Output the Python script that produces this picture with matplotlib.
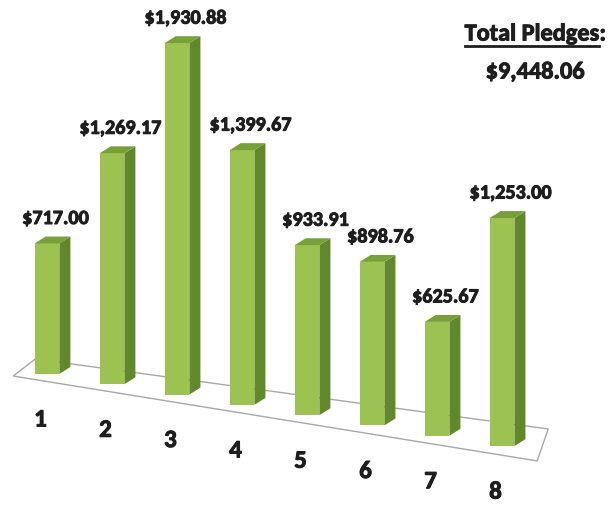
import matplotlib
matplotlib.use("Agg")
import matplotlib.pyplot as plt
import matplotlib.patheffects as pe
from matplotlib.patches import Polygon
from matplotlib.lines import Line2D

# data
categories = ["1", "2", "3", "4", "5", "6", "7", "8"]
pledges = [717.00, 1269.17, 1930.88, 1399.67, 933.91, 898.76, 625.67, 1253.00]
total_label = "$9,448.06"

# faux 3d look
TILT = 56.6        # baseline drop per category (in $ units)
BAR_W = 0.38
DEPTH_X = 0.17
DEPTH_Y = 38.0
FRONT = "#9cc252"
SIDE = "#62882c"
TOP = "#78a038"
FONT = ["Carlito", "DejaVu Sans"]
INK = "#1e1e1e"
HEAVY = [pe.withStroke(linewidth=0.7, foreground=INK)]


def base(x):
    return -TILT * (x - 1)


fig = plt.figure(figsize=(6.08, 5.06), dpi=100)
ax = fig.add_axes([0, 0, 1, 1])
ax.set_xlim(0.277, 9.63)
ax.set_ylim(-720, 2060)
ax.axis("off")

# floor
fl = [(0.48, base(0.48) - 41), (8.54, base(8.54) - 51),
      (8.71, base(8.71) + 134), (0.82, base(0.82) + 72)]
ax.add_patch(Polygon(fl, closed=True, facecolor="white", edgecolor="#a8a8a8",
                     linewidth=1.0, zorder=1))

xs = list(range(1, len(pledges) + 1))
bottoms = [base(x) for x in xs]
bars = ax.bar(xs, pledges, width=BAR_W, bottom=bottoms, color=FRONT,
              edgecolor="none", zorder=3)

for b, val, x in zip(bars, pledges, xs):
    x0, y0 = b.get_x(), b.get_y()
    w, h = b.get_width(), b.get_height()
    x1, y1 = x0 + w, y0 + h
    side = [(x1, y0), (x1 + DEPTH_X, y0 + DEPTH_Y),
            (x1 + DEPTH_X, y1 + DEPTH_Y), (x1, y1)]
    top = [(x0, y1), (x1, y1), (x1 + DEPTH_X, y1 + DEPTH_Y),
           (x0 + DEPTH_X, y1 + DEPTH_Y)]
    ax.add_patch(Polygon(side, closed=True, facecolor=SIDE, edgecolor="none", zorder=3))
    ax.add_patch(Polygon(top, closed=True, facecolor=TOP, edgecolor="none", zorder=3))
    ax.text(x + 0.13, y1 + 137, f"${val:,.2f}", ha="center", va="center",
            fontsize=14.5, fontweight="bold", family=FONT, color=INK, zorder=5,
            path_effects=HEAVY)

for x, lab in zip(xs, categories):
    ax.text(x - 0.1, base(x) - 253, lab, ha="center", va="center",
            fontsize=18, fontweight="bold", family=FONT, color=INK,
            path_effects=HEAVY)

# total
t = fig.text(532 / 608, 1 - 35 / 506, "Total Pledges", ha="center", va="center",
             fontsize=17.5, fontweight="bold", family=FONT, color=INK,
             path_effects=HEAVY)
fig.canvas.draw()
bb = t.get_window_extent().transformed(fig.transFigure.inverted())
fig.text(bb.x1, 1 - 35 / 506, ":", ha="left", va="center",
         fontsize=17.5, fontweight="bold", family=FONT, color=INK,
         path_effects=HEAVY)
uy = bb.y0 - 0.002
fig.add_artist(Line2D([bb.x0, bb.x1], [uy, uy], transform=fig.transFigure,
                      color=INK, linewidth=2.0))
fig.text(535 / 608, 1 - 73 / 506, total_label, ha="center", va="center",
         fontsize=17.5, fontweight="bold", family=FONT, color=INK,
         path_effects=HEAVY)

fig.savefig("out.png", dpi=100, facecolor="white")
